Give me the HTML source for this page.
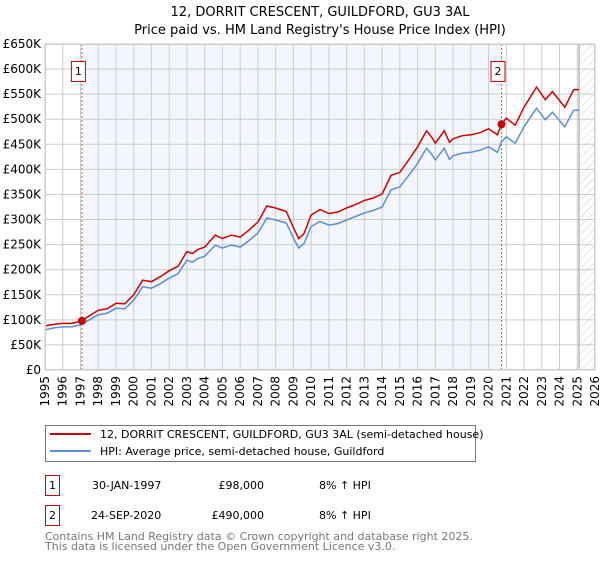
<!DOCTYPE html>
<html><head><meta charset="utf-8"><style>
body{margin:0;background:#fff;font-family:"DejaVu Sans","Liberation Sans",sans-serif;}
svg text{font-family:"DejaVu Sans","Liberation Sans",sans-serif;}
</style></head><body>
<svg id="chart" width="600" height="560" viewBox="0 0 600 560" xmlns="http://www.w3.org/2000/svg">
<defs>
<pattern id="hatch" width="6" height="6" patternUnits="userSpaceOnUse" patternTransform="rotate(45)">
<line x1="0" y1="0" x2="0" y2="6" stroke="#ccc" stroke-width="1"/>
</pattern>
</defs>
<text x="320" y="16" text-anchor="middle" font-size="13" fill="#000">12, DORRIT CRESCENT, GUILDFORD, GU3 3AL</text>
<text x="320" y="34" text-anchor="middle" font-size="13" fill="#000">Price paid vs. HM Land Registry's House Price Index (HPI)</text>
<g id="plot"></g>
<g>
<rect x="45.5" y="425.5" width="430" height="36" fill="#fff" stroke="#777"/>
<line x1="50" y1="434" x2="91" y2="434" stroke="#cc0000" stroke-width="2"/>
<text x="100" y="438" font-size="11">12, DORRIT CRESCENT, GUILDFORD, GU3 3AL (semi-detached house)</text>
<line x1="50" y1="451" x2="91" y2="451" stroke="#5b8ed6" stroke-width="2"/>
<text x="100" y="455" font-size="11">HPI: Average price, semi-detached house, Guildford</text>
</g>
<g>
<rect x="45.5" y="475.5" width="14" height="20" fill="#fff" stroke="#cc0000"/>
<text x="52.5" y="489" font-size="11" text-anchor="middle">1</text>
<text x="92" y="489" font-size="11">30-JAN-1997</text>
<text x="264" y="489" font-size="11" text-anchor="end">£98,000</text>
<text x="319" y="489" font-size="11">8% ↑ HPI</text>
<rect x="45.5" y="505.5" width="14" height="20" fill="#fff" stroke="#cc0000"/>
<text x="52.5" y="519" font-size="11" text-anchor="middle">2</text>
<text x="91" y="519" font-size="11">24-SEP-2020</text>
<text x="264" y="519" font-size="11" text-anchor="end">£490,000</text>
<text x="319" y="519" font-size="11">8% ↑ HPI</text>
</g>
<text x="45" y="540" font-size="11" fill="#777">Contains HM Land Registry data © Crown copyright and database right 2025.</text>
<text x="45" y="550" font-size="11" fill="#777">This data is licensed under the Open Government Licence v3.0.</text>
</svg>
<script>
const years=[1995,1995.5,1996,1996.5,1997,1997.5,1998,1998.5,1999,1999.5,2000,2000.5,2001,2001.5,2002,2002.5,2003,2003.3,2003.6,2004,2004.6,2005,2005.5,2006,2006.5,2007,2007.5,2008,2008.6,2009.0,2009.3,2009.6,2010,2010.5,2011,2011.5,2012,2012.5,2013,2013.5,2014,2014.5,2015,2015.5,2016,2016.5,2016.8,2017,2017.5,2017.8,2018,2018.5,2019,2019.5,2020,2020.5,2020.73,2021,2021.5,2022,2022.7,2023.2,2023.6,2024.3,2024.8,2025.1];
const hpi=[80,84,86,86,90,100,110,113,123,122,139,166,163,172,183,192,219,215,222,227,249,243,249,245,258,273,303,299,293,263,243,252,286,296,289,292,299,306,313,318,325,359,365,388,412,442,430,419,442,420,427,432,434,438,445,434,455,465,452,485,522,499,514,485,518,518];
const price=[88,91,93,93,97,108,119,122,133,132,150,179,176,186,198,207,236,232,240,245,269,262,269,265,279,295,327,323,316,284,262,272,309,320,312,315,323,330,338,343,351,388,394,419,445,477,464,452,477,454,461,467,469,473,481,469,490,502,488,524,564,539,555,524,559,559];
const yTicks=[0,50,100,150,200,250,300,350,400,450,500,550,600,650];
const xTicks=[1995,1996,1997,1998,1999,2000,2001,2002,2003,2004,2005,2006,2007,2008,2009,2010,2011,2012,2013,2014,2015,2016,2017,2018,2019,2020,2021,2022,2023,2024,2025,2026];
const sales=[[1997.08,98],[2020.73,490]];
const L=45,R=595,T=44,B=370,X0=1995,X1=2026,YMAX=650;
const xs=v=>L+(v-X0)/(X1-X0)*(R-L);
const ys=v=>B-v/YMAX*(B-T);
const NS="http://www.w3.org/2000/svg";
const plot=document.getElementById('plot');
function mk(t,a){const e=document.createElementNS(NS,t);for(const k in a)e.setAttribute(k,a[k]);plot.appendChild(e);return e;}
let e;
e=mk('rect',{x:L,y:T,width:R-L,height:B-T,fill:'#fff'});


e=mk('rect',{x:xs(sales[0][0]),y:T,width:xs(sales[1][0])-xs(sales[0][0]),height:B-T,fill:'#eef3fc',opacity:0.7});


e=mk('rect',{x:xs(2025.2),y:T,width:R-xs(2025.2),height:B-T,fill:'url(#hatch)'});


yTicks.forEach(v=>{
 e=mk('line',{x1:L,x2:R,y1:ys(v),y2:ys(v),stroke:'#ccc','stroke-width':1});
 
 
 e=mk('text',{x:L-4,y:ys(v)+4,'text-anchor':'end','font-size':12});
 e.textContent=v===0?'£0':'£'+v+'K';
 
 
});
xTicks.forEach(v=>{
 e=mk('line',{x1:xs(v),x2:xs(v),y1:T,y2:B,stroke:'#ccc','stroke-width':1});
 
 
 e=mk('text',{x:0,y:0,'text-anchor':'end','font-size':12,transform:`translate(${xs(v)+4},${B+6}) rotate(-90)`});
 e.textContent=v;
 
 
});
e=mk('line',{x1:xs(2025.1),x2:xs(2025.1),y1:T,y2:B,stroke:'#999','stroke-width':1});


sales.forEach((s,i)=>{
 e=mk('line',{x1:xs(s[0]),x2:xs(s[0]),y1:T,y2:B,stroke:'#e55','stroke-width':1,'stroke-dasharray':'2,2'});
 
 
});
const pts=a=>a.map((v,i)=>xs(years[i]).toFixed(1)+','+ys(v).toFixed(1)).join(' ');
e=mk('polyline',{points:pts(hpi),fill:'none',stroke:'#5b8ed6','stroke-width':1.5});


e=mk('polyline',{points:pts(price),fill:'none',stroke:'#cc0000','stroke-width':1.5});


sales.forEach((s,i)=>{
 e=mk('circle',{cx:xs(s[0]),cy:ys(s[1]),r:4,fill:'#cc0000'});
 
 
 const bx=xs(s[0])-10;
 e=mk('rect',{x:bx-0.5,y:61.5,width:14,height:20,fill:'#fff',stroke:'#cc0000'});
 
 
 e=mk('text',{x:bx+6.5,y:75,'text-anchor':'middle','font-size':11});
 e.textContent=String(i+1);
 
 
});
e=mk('rect',{x:L+0.5,y:T+0.5,width:R-L-1,height:B-T-1,fill:'none',stroke:'#ccc'});


</script>
</body></html>
